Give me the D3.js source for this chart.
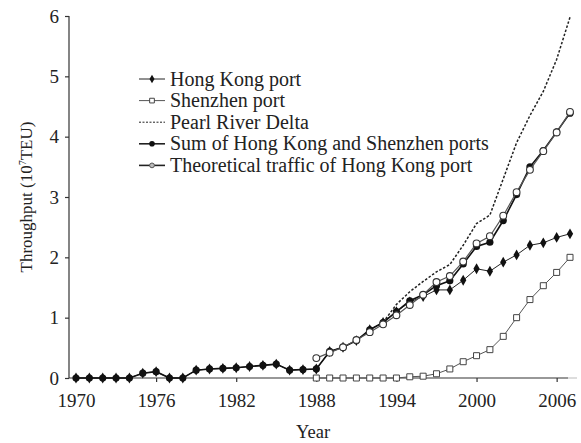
<!DOCTYPE html>
<html>
<head>
<meta charset="utf-8">
<script src="https://cdn.jsdelivr.net/npm/d3@7"></script>
<style>
  html, body { margin: 0; padding: 0; background: #fff; }
  svg { display: block; }
  text { font-family: "Liberation Serif", "Times New Roman", serif; fill: #222; }
</style>
</head>
<body>
<svg id="chart" width="581" height="443"></svg>
<script>
// Container throughput, 10^7 TEU
const years = d3.range(1970, 2008);
const hongKong = [0, 0, 0, 0, 0, 0.08, 0.105, 0, 0, 0.13, 0.15, 0.16, 0.17, 0.19, 0.21, 0.23, 0.13, 0.14, 0.15,
  0.44, 0.51, 0.62, 0.80, 0.92, 1.10, 1.26, 1.35, 1.46, 1.46, 1.62, 1.81, 1.77, 1.92, 2.04, 2.20, 2.24, 2.33, 2.39];
const shenzhenYears = d3.range(1988, 2008);
const shenzhen = [0, 0, 0, 0, 0, 0, 0, 0.02, 0.03, 0.07, 0.15, 0.27, 0.37, 0.47, 0.69, 1.00, 1.30, 1.53, 1.75, 2.00];
const deltaYears = d3.range(1993, 2008);
const pearlRiverDelta = [0.92, 1.22, 1.43, 1.60, 1.76, 1.88, 2.20, 2.56, 2.70, 3.30, 3.90, 4.35, 4.75, 5.28, 5.98];
const sumPorts = [0, 0, 0, 0, 0, 0.08, 0.105, 0, 0, 0.13, 0.15, 0.16, 0.17, 0.19, 0.21, 0.23, 0.13, 0.14, 0.15,
  0.44, 0.51, 0.62, 0.80, 0.92, 1.10, 1.28, 1.38, 1.53, 1.61, 1.89, 2.18, 2.25, 2.61, 3.04, 3.50, 3.77, 4.08, 4.39];
const theoryYears = d3.range(1988, 2008);
const theoretical = [0.33, 0.42, 0.51, 0.63, 0.76, 0.89, 1.04, 1.21, 1.38, 1.59, 1.69, 1.93, 2.23, 2.35, 2.69, 3.08, 3.45, 3.76, 4.07, 4.41];
const xTicks = [1970, 1976, 1982, 1988, 1994, 2000, 2006];
const yTicks = [0, 1, 2, 3, 4, 5, 6];
const legendLabels = ["Hong Kong port", "Shenzhen port", "Pearl River Delta",
  "Sum of Hong Kong and Shenzhen ports", "Theoretical traffic of Hong Kong port"];

const svg = d3.select("#chart");
const x = d3.scaleLinear().domain([1970, 2007]).range([76, 570]);
const y = d3.scaleLinear().domain([0, 6]).range([378, 16]);
const axisLeft = 69;

// faint run-out of the baseline past the last year
svg.append("line").attr("x1", x(2007) - 2).attr("x2", x(2007) + 7).attr("y1", y(0)).attr("y2", y(0))
  .attr("stroke", "#bbb").attr("stroke-width", 1);

// axes
const gx = svg.append("g").attr("transform", `translate(0,${y(0)})`)
  .call(d3.axisBottom(x).tickValues(xTicks).tickFormat(d3.format("d")).tickSize(4).tickPadding(12));
gx.select(".domain").attr("d", `M${axisLeft},0H${x(2007) - 2}`);
const gy = svg.append("g").attr("transform", `translate(${axisLeft},0)`)
  .call(d3.axisLeft(y).tickValues(yTicks).tickFormat(d3.format("d")).tickSize(4).tickPadding(6));
gy.select(".domain").attr("d", `M0,${y(6)}V${y(0)}`);
svg.selectAll(".tick text").style("font-size", "19px").style("font-family", '"Liberation Serif", serif').attr("fill", "#222");
svg.selectAll(".domain, .tick line").attr("stroke", "#333").attr("stroke-width", 1.2);

// axis titles
svg.append("text").attr("x", 313).attr("y", 438).attr("text-anchor", "middle")
  .style("font-size", "18.5px").text("Year");
const yt = svg.append("text").attr("transform", "translate(32,197) rotate(-90)")
  .attr("text-anchor", "middle").style("font-size", "17px");
yt.append("tspan").text("Throughput (10");
yt.append("tspan").attr("dy", -6).style("font-size", "10px").text("7");
yt.append("tspan").attr("dy", 6).text("TEU)");

const line = d3.line().x(d => x(d[0])).y(d => y(d[1]));
const pairs = (xs, vs) => xs.map((yr, i) => [yr, vs[i]]);

const diamond = d3.symbol().type(d3.symbolDiamond).size(34);
const square = d3.symbol().type(d3.symbolSquare).size(36);

// Pearl River Delta
svg.append("path").datum(pairs(deltaYears, pearlRiverDelta)).attr("d", line)
  .attr("fill", "none").attr("stroke", "#222").attr("stroke-width", 1.5).attr("stroke-dasharray", "2.5,1.8");

// Hong Kong port
const hk = pairs(years, hongKong);
svg.append("path").datum(hk).attr("d", line).attr("fill", "none").attr("stroke", "#222").attr("stroke-width", 1);
svg.append("g").selectAll("path").data(hk).join("path")
  .attr("transform", d => `translate(${x(d[0])},${y(d[1])})`).attr("d", diamond).attr("fill", "#111");

// Sum of both ports
const sum = pairs(years, sumPorts);
svg.append("path").datum(sum).attr("d", line).attr("fill", "none").attr("stroke", "#111").attr("stroke-width", 1.6);
svg.append("g").selectAll("circle").data(sum).join("circle")
  .attr("cx", d => x(d[0])).attr("cy", d => y(d[1])).attr("r", 3.6).attr("fill", "#111");

// Shenzhen port
const sz = pairs(shenzhenYears, shenzhen);
svg.append("path").datum(sz).attr("d", line).attr("fill", "none").attr("stroke", "#555").attr("stroke-width", 1);
svg.append("g").selectAll("path").data(sz).join("path")
  .attr("transform", d => `translate(${x(d[0])},${y(d[1])})`).attr("d", square)
  .attr("fill", "#fff").attr("stroke", "#444").attr("stroke-width", 1);

// Theoretical traffic of Hong Kong port
const th = pairs(theoryYears, theoretical);
svg.append("path").datum(th).attr("d", line).attr("fill", "none").attr("stroke", "#555").attr("stroke-width", 1.2);
svg.append("g").selectAll("circle").data(th).join("circle")
  .attr("cx", d => x(d[0])).attr("cy", d => y(d[1])).attr("r", 3.4)
  .attr("fill", "#fff").attr("stroke", "#333").attr("stroke-width", 1.1);

// legend
const lg = svg.append("g");
const rowY = i => 79 + i * 21.6;
const x0 = 139, x1 = 165, xm = 152;
legendLabels.forEach((label, i) => {
  const r = lg.append("g");
  r.append("line").attr("x1", x0).attr("x2", x1).attr("y1", rowY(i)).attr("y2", rowY(i))
    .attr("stroke", i === 1 ? "#555" : "#222")
    .attr("stroke-width", i >= 3 ? 1.6 : 1)
    .attr("stroke-dasharray", i === 2 ? "2,1.5" : null);
  if (i === 0) r.append("path").attr("transform", `translate(${xm},${rowY(i)})`).attr("d", d3.symbol().type(d3.symbolDiamond).size(22)).attr("fill", "#111");
  if (i === 1) r.append("path").attr("transform", `translate(${xm},${rowY(i)})`).attr("d", d3.symbol().type(d3.symbolSquare).size(22)).attr("fill", "#fff").attr("stroke", "#444");
  if (i === 3) r.append("circle").attr("cx", xm).attr("cy", rowY(i)).attr("r", 2.8).attr("fill", "#111");
  if (i === 4) r.append("circle").attr("cx", xm).attr("cy", rowY(i)).attr("r", 2.4).attr("fill", "#bbb").attr("stroke", "#555");
  r.append("text").attr("x", 170).attr("y", rowY(i) + 6.5).style("font-size", "20px").text(label);
});
</script>
</body>
</html>
